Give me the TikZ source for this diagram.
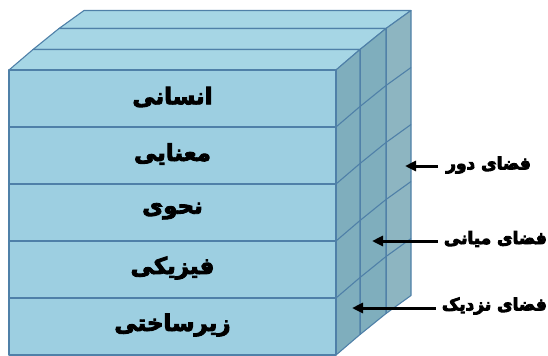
\documentclass[tikz,border=0pt]{standalone}
\usepackage{fontspec}
\newfontfamily\arabicfont[Script=Arabic,BoldFont={DejaVu Sans Bold}]{DejaVu Sans}
\TeXXeTstate=1
\usetikzlibrary{arrows.meta}
\newcommand\heavyon{\special{pdf:literal direct q 2 Tr 0.9 w}}
\newcommand\heavyoff{\special{pdf:literal direct Q}}
\definecolor{frontc}{HTML}{9DCFE1}
\definecolor{topc}{HTML}{A6D6E5}
\definecolor{sidec}{HTML}{7FAEBD}
\definecolor{sideback}{HTML}{8DB5C1}
\definecolor{edgec}{HTML}{4F80A8}
\tikzset{
  face/.style={draw=edgec, line width=1.1bp, line join=round},
  rowline/.style={draw=edgec, line width=1.1bp},
  layertext/.style={font=\arabicfont\bfseries\fontsize{23}{27}\selectfont, inner sep=0pt},
  sidelabel/.style={font=\arabicfont\bfseries\fontsize{17}{20}\selectfont, inner sep=0pt},
  arr/.style={line width=3bp, -{Triangle[length=11bp,width=10bp]}}
}
\begin{document}
\begin{tikzpicture}[x=1bp,y=-1bp]
\useasboundingbox (0,0) rectangle (548,355);
\def\W{327}
\def\H{285}
\def\R{57}
% slabs, back to front: xL, yT, dx, dy, side colour
\foreach \xl/\yt/\dx/\dy/\sc in {59/28.5/25/-18/sideback, 33/49.5/26/-21/sidec, 9/70/24/-20.5/sidec}{
  % top face
  \path[face, fill=topc] (\xl,\yt) -- ++(\W,0) -- ++(\dx,\dy) -- ++(-\W,0) -- cycle;
  % side face
  \path[face, fill=\sc] (\xl+\W,\yt) -- ++(\dx,\dy) -- ++(0,\H) -- ++(-\dx,-\dy) -- cycle;
  \foreach \i in {1,...,4}{
    \draw[rowline] (\xl+\W,\yt+\i*\R) -- ++(\dx,\dy);
  }
  % front face
  \path[face, fill=frontc] (\xl,\yt) rectangle ++(\W,\H);
  \foreach \i in {1,...,4}{
    \draw[rowline] (\xl,\yt+\i*\R) -- ++(\W,0);
  }
}
% layer names
\node[layertext] (l1) at (172.5,97) {\heavyon\beginR انسانی\endR\heavyoff};
\node[layertext] (l2) at (172.5,154) {\heavyon\beginR معنایی\endR\heavyoff};
\node[layertext] (l3) at (172.5,211) {\heavyon\beginR نحوی\endR\heavyoff};
\node[layertext] (l4) at (172.5,268) {\heavyon\beginR فیزیکی\endR\heavyoff};
\node[layertext] (l5) at (172.5,325) {\heavyon\beginR زیرساختی\endR\heavyoff};
% side labels
\node[sidelabel, anchor=east] (far) at (531,165) {\heavyon\beginR فضای دور\endR\heavyoff};
\node[sidelabel, anchor=east] (mid) at (547,239) {\heavyon\beginR فضای میانی\endR\heavyoff};
\node[sidelabel, anchor=east] (near) at (547,306) {\heavyon\beginR فضای نزدیک\endR\heavyoff};
\coordinate (tipfar) at (405,166);
\coordinate (tipmid) at (372,241);
\coordinate (tipnear) at (352,308);
\draw[arr] ([xshift=-8bp]tipfar -| far.west) -- (tipfar);
\draw[arr] ([xshift=-6bp]tipmid -| mid.west) -- (tipmid);
\draw[arr] ([xshift=-6bp]tipnear -| near.west) -- (tipnear);
\end{tikzpicture}
\end{document}
